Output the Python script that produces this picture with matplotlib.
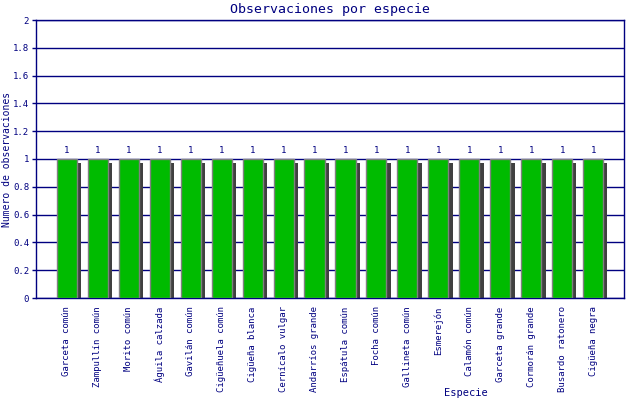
import matplotlib
matplotlib.use('Agg')
import matplotlib.pyplot as plt
import numpy as np

# Datos del gráfico
especies = ['Garceta común', 'Zampullín común', 'Morito común', 'Águila calzada',
            'Gavilán común', 'Cigüeñuela común', 'Cigüeña blanca', 'Cernícalo vulgar',
            'Andarríos grande', 'Espátula común', 'Focha común', 'Gallineta común',
            'Esmerejón', 'Calamón común', 'Garceta grande', 'Cormorán grande',
            'Busardo ratonero', 'Cigüeña negra']
observaciones = [1, 1, 1, 1, 1, 1, 1, 1, 1, 1, 1, 1, 1, 1, 1, 1, 1, 1]
y_ticks = [0, 0.2, 0.4, 0.6, 0.8, 1, 1.2, 1.4, 1.6, 1.8, 2]
y_labels = ['0', '0.2', '0.4', '0.6', '0.8', '1', '1.2', '1.4', '1.6', '1.8', '2']

navy = '#000080'
verde = '#00bb00'
sombra = '#404040'

plt.rcParams['font.family'] = ['DejaVu Sans Mono']

fig = plt.figure(figsize=(6.4, 4), dpi=100)
ax = fig.add_axes([36 / 640, 102 / 400, 588 / 640, 278 / 400])

x = np.arange(len(especies))
valores = np.array(observaciones)

# sombra desplazada a la derecha y abajo
ax.bar(x + 0.14, valores - 0.03, width=0.65, color=sombra, zorder=2, linewidth=0)
ax.bar(x, valores, width=0.65, color=verde, edgecolor='#808080', linewidth=1, zorder=3)

for xi, v in zip(x, valores):
    ax.text(xi, v + 0.03, f'{v}', ha='center', va='bottom', fontsize=6.5, color=navy)

ax.set_xlim(-1, len(especies))
ax.set_ylim(0, 2)
ax.set_yticks(y_ticks)
ax.set_yticklabels(y_labels, fontsize=6.5, color=navy)
ax.set_xticks(x)
ax.set_xticklabels(especies, rotation=90, fontsize=6.5, color=navy)
ax.tick_params(axis='y', colors=navy, length=3, width=1, pad=2, labelcolor=navy)
ax.tick_params(axis='x', length=0, pad=6, labelcolor=navy)
ax.grid(axis='y', color=navy, linewidth=1, zorder=1)
ax.set_axisbelow(True)
for s in ax.spines.values():
    s.set_color(navy)
    s.set_linewidth(1)

fig.text(330 / 640, 1 - 9 / 400, 'Observaciones por especie', ha='center', va='center',
         fontsize=9.5, color=navy)
fig.text(7 / 640, 0.5 * (380 + 102) / 400, 'Numero de observaciones', rotation=90,
         ha='center', va='center', fontsize=7, color=navy)
fig.text(466 / 640, 1 - 393 / 400, 'Especie', ha='center', va='center', fontsize=7.5,
         color=navy)

fig.savefig('out.png', dpi=100)
